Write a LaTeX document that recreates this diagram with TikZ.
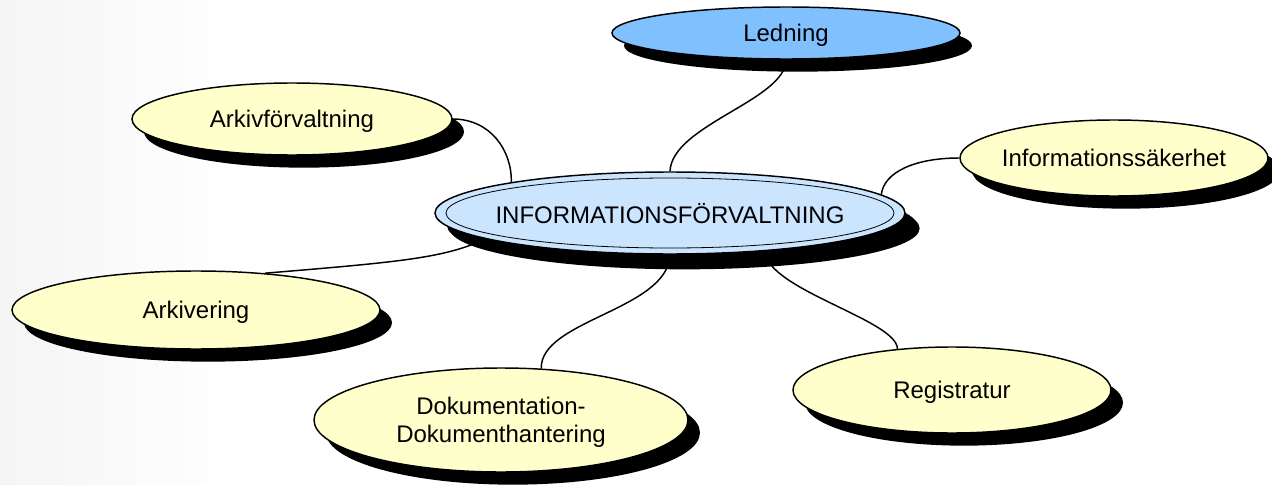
\documentclass[tikz,border=0pt]{standalone}
\usepackage{fontspec}
\setmainfont{Liberation Sans}
\usetikzlibrary{shapes.geometric,shadows,backgrounds}
\definecolor{bubyellow}{RGB}{255,255,204}
\definecolor{bubblue}{RGB}{204,229,255}
\definecolor{topblue}{RGB}{128,192,255}
\tikzset{
  bubble/.style={ellipse, draw=black, line width=1.1pt, fill=bubyellow,
    inner xsep=-60pt, inner ysep=-20pt,
    font=\fontsize{18}{21}\selectfont, align=center, text depth=0pt,
    drop shadow={shadow xshift=9pt, shadow yshift=-9.5pt, fill=black, opacity=1}},
  link/.style={line width=1.1pt, black}
}
\begin{document}
\begin{tikzpicture}[x=0.75pt,y=-0.75pt]
\useasboundingbox (0,0) rectangle (1272,485);
% nodes
\node[bubble, fill=topblue, minimum width=261pt, minimum height=39pt] (led) at (786,33) {Ledning};
\node[bubble, fill=bubblue, minimum width=352.5pt, minimum height=61.5pt,
  drop shadow={shadow xshift=11pt, shadow yshift=-11.5pt, fill=black, opacity=1}] (cen) at (670,213) {INFORMATIONSFÖRVALTNING};
\draw[line width=0.6pt] (cen.center) ellipse [x radius=224, y radius=35];
\node[bubble, minimum width=240pt, minimum height=54pt] (arf) at (292,119) {Arkivförvaltning};
\node[bubble, minimum width=231pt, minimum height=57pt] (inf) at (1114,158) {Informationssäkerhet};
\node[bubble, minimum width=276pt, minimum height=58.5pt] (ark) at (196,310) {Arkivering};
\node[bubble, minimum width=280.5pt, minimum height=78pt] (dok) at (501,420) {Dokumentation-\\Dokumenthantering};
\node[bubble, minimum width=238.5pt, minimum height=64.5pt] (reg) at (952,390) {Registratur};
% background and connectors
\begin{pgfonlayer}{background}
\shade[left color=black!4, right color=white] (0,0) rectangle (240,485);
\draw[link] (led.south) .. controls (786,100) and (672,125) .. (cen.north);
\draw[link] (arf.east) .. controls (490,119) and (512,150) .. (cen.169);
\draw[link] (inf.west) .. controls (915,158) and (884,172) .. (cen.5);
\draw[link] (ark.28) .. controls (400,262) and (445,258) .. (cen.188);
\draw[link] (cen.south) .. controls (668,310) and (540,320) .. (dok.52);
\draw[link] (cen.-22) .. controls (768,290) and (897,320) .. (reg.143);
\end{pgfonlayer}
\end{tikzpicture}
\end{document}
